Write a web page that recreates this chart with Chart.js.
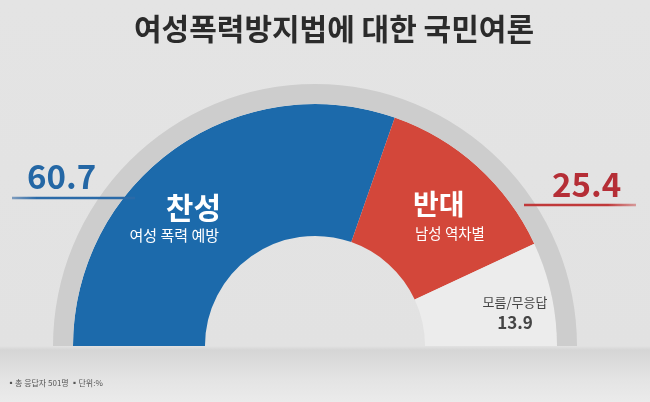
<!DOCTYPE html>
<html>
<head>
<meta charset="utf-8">
<script src="https://cdn.jsdelivr.net/npm/chart.js@4.4.0/dist/chart.umd.min.js"></script>
<style>
  html, body { margin: 0; padding: 0; }
  body {
    width: 650px; height: 402px; overflow: hidden;
    background: linear-gradient(to bottom, #e4e4e4 0px, #e2e2e2 346px, #d5d5d5 350px, #e4e4e4 380px, #ebebeb 402px);
    font-family: "Noto Sans CJK KR", "Noto Sans", sans-serif;
  }
  #wrap { position: absolute; left: 0; top: 0; width: 650px; height: 402px; }
</style>
</head>
<body>
<div id="wrap"><canvas id="myChart" width="650" height="402"></canvas></div>
<script>
// data
const categories = ['찬성', '반대', '모름/무응답'];
const subLabels = ['여성 폭력 예방', '남성 역차별', ''];
const values = [60.7, 25.4, 13.9];
const colors = ['#1c6aab', '#d3473a', '#ececec'];
const chartTitle = '여성폭력방지법에 대한 국민여론';
const footNote = '▪총 응답자 501명 ▪단위:%';

const FONT = '"Noto Sans CJK KR", "Noto Sans", sans-serif';

const labelPlugin = {
    id: 'gaugeLabels',
    afterDatasetsDraw(chart) {
        const ctx = chart.ctx;
        const arcs = chart.getDatasetMeta(1).data;
        const cx = arcs[0].x, cy = arcs[0].y;

        ctx.save();
        // title
        ctx.fillStyle = '#2b2b2b';
        ctx.textAlign = 'center';
        ctx.textBaseline = 'middle';
        ctx.font = `bold 30px ${FONT}`;
        ctx.fillText(chartTitle, 334, 29);

        // labels inside the slices
        ctx.fillStyle = '#ffffff';
        ctx.textAlign = 'right';
        ctx.font = `bold 30px ${FONT}`;
        ctx.fillText(categories[0], cx - 94, cy - 138);
        ctx.font = `15px ${FONT}`;
        ctx.fillText(subLabels[0], cx - 96, cy - 111);

        ctx.textAlign = 'left';
        ctx.font = `bold 28px ${FONT}`;
        ctx.fillText(categories[1], cx + 98, cy - 142);
        ctx.font = `14.5px ${FONT}`;
        ctx.fillText(subLabels[1], cx + 100, cy - 113);

        ctx.fillStyle = '#444444';
        ctx.textAlign = 'center';
        ctx.font = `13px ${FONT}`;
        ctx.fillText(categories[2], cx + 200, cy - 44);
        ctx.font = `bold 17px ${FONT}`;
        ctx.fillText(values[2].toFixed(1), cx + 200, cy - 23);

        // big numbers with underline
        ctx.textBaseline = 'alphabetic';
        ctx.textAlign = 'left';
        ctx.font = `bold 33px ${FONT}`;
        ctx.fillStyle = '#2467a5';
        ctx.fillText(values[0].toFixed(1), 27, 189);
        let g = ctx.createLinearGradient(12, 0, 135, 0);
        g.addColorStop(0, 'rgba(60,110,165,0.6)');
        g.addColorStop(0.2, '#2a6aa8');
        g.addColorStop(1, '#2a6aa8');
        ctx.strokeStyle = g;
        ctx.lineWidth = 2.5;
        ctx.beginPath();
        ctx.moveTo(12, 198);
        ctx.lineTo(135, 198);
        ctx.stroke();

        ctx.fillStyle = '#b52e36';
        ctx.fillText(values[1].toFixed(1), 552, 197);
        g = ctx.createLinearGradient(524, 0, 636, 0);
        g.addColorStop(0, '#c0393a');
        g.addColorStop(0.75, '#c0393a');
        g.addColorStop(1, 'rgba(200,80,80,0.5)');
        ctx.strokeStyle = g;
        ctx.beginPath();
        ctx.moveTo(524, 205);
        ctx.lineTo(636, 205);
        ctx.stroke();

        // footnote
        ctx.fillStyle = '#555555';
        ctx.font = `8px ${FONT}`;
        ctx.textBaseline = 'middle';
        ctx.fillText(footNote, 7, 383);
        ctx.restore();
    }
};

document.addEventListener('DOMContentLoaded', () => {
    const ctx = document.getElementById('myChart').getContext('2d');
    new Chart(ctx, {
        type: 'doughnut',
        data: {
            labels: categories,
            datasets: [{
                // outer grey ring
                data: [100],
                backgroundColor: ['#cdcdcd'],
                borderWidth: 0,
                weight: 20
            }, {
                data: values,
                backgroundColor: colors,
                borderWidth: 0,
                weight: 132
            }]
        },
        options: {
            responsive: false,
            animation: false,
            rotation: -90,
            circumference: 180,
            cutout: '42%',
            layout: { padding: { left: 53, right: 73, top: 84, bottom: 56 } },
            plugins: {
                legend: { display: false },
                tooltip: { enabled: false }
            }
        },
        plugins: [labelPlugin]
    });
});
</script>
</body>
</html>
